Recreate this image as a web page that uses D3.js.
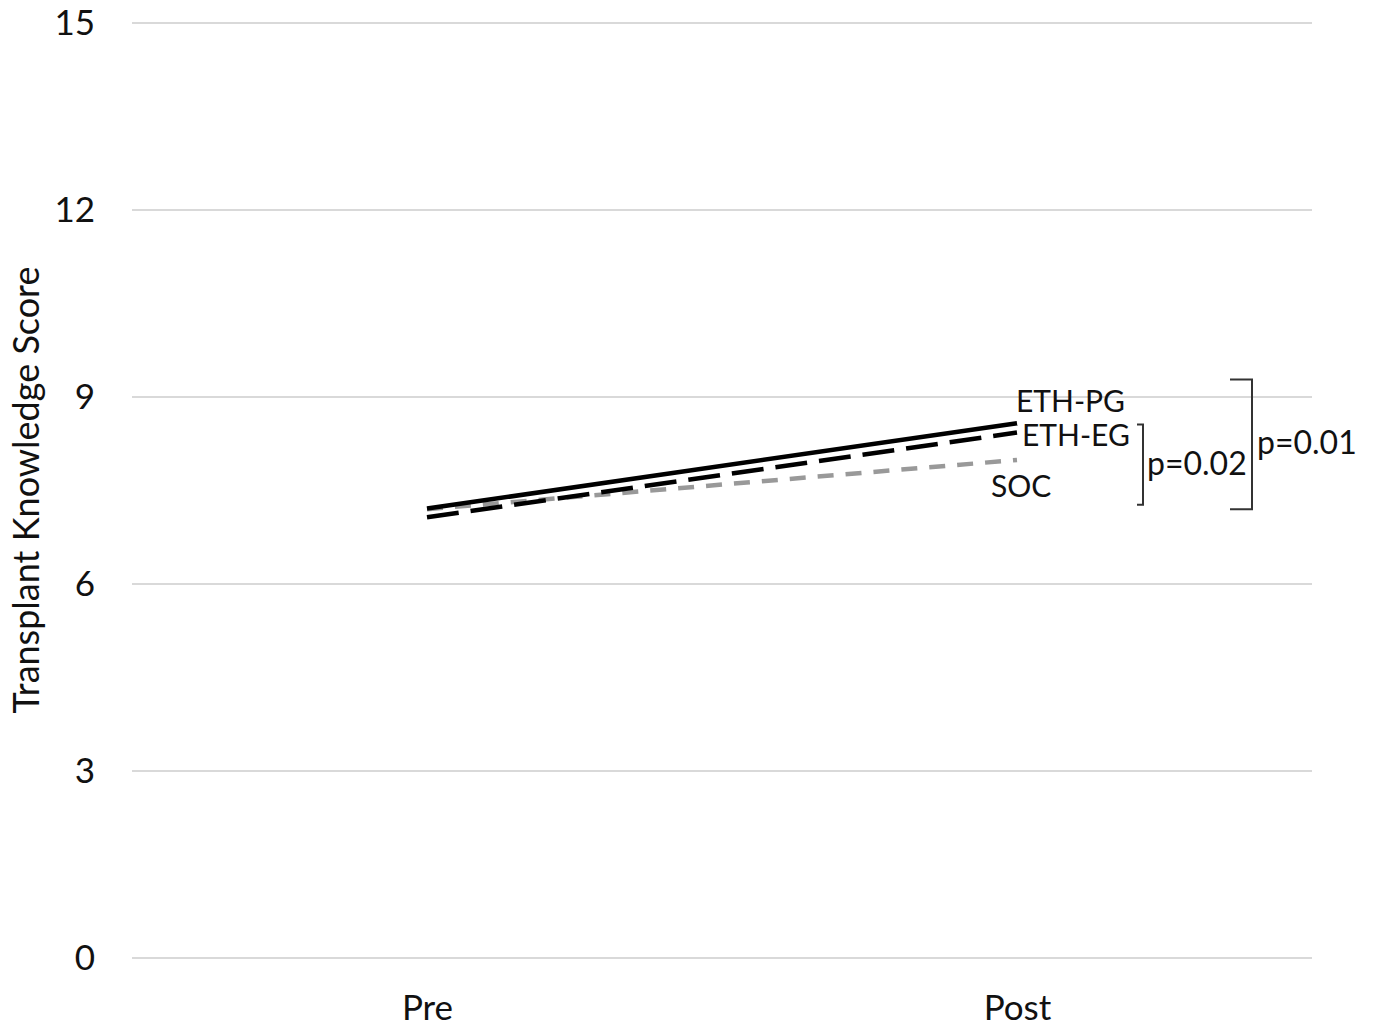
<!DOCTYPE html>
<html>
<head>
<meta charset="utf-8">
<script src="https://cdn.jsdelivr.net/npm/d3@7"></script>
<style>
  body { margin: 0; background: #fff; }
  svg { font-family: Lato, "Open Sans", sans-serif; }
</style>
</head>
<body>
<div id="theChart"></div>
<script>
const times = ["Pre", "Post"]
const groups = ["ETH-PG", "ETH-EG", "SOC"]
const ethPg = [7.21, 8.58]
const ethEg = [7.07, 8.43]
const soc = [7.2, 7.99]
const yTicks = [0, 3, 6, 9, 12, 15]
const pLabels = ["p=0.02", "p=0.01"]

const w = 1375
const h = 1032

const svg = d3.select("#theChart")
	.append("svg")
	.attr("width", w)
	.attr("height", h)

const x = d3.scalePoint().domain(times).range([132, 1312]).padding(0.5)
const y = d3.scaleLinear().domain([0, 15]).range([958, 23])

// gridlines
svg.append("g")
	.selectAll("line")
	.data(yTicks)
	.enter()
	.append("line")
	.attr("x1", 132)
	.attr("x2", 1312)
	.attr("y1", d => y(d))
	.attr("y2", d => y(d))
	.attr("stroke", "#d9d9d9")
	.attr("stroke-width", 2)

const yAxis = d3.axisLeft(y).tickValues(yTicks).tickSize(0).tickPadding(0)
svg.append("g")
	.attr("transform", "translate(95,0)")
	.call(yAxis)
	.call(g => g.select(".domain").remove())
	.selectAll("text")
	.attr("font-size", 35)
	.attr("font-family", "Lato, sans-serif")
	.attr("fill", "#111")

const xAxis = d3.axisBottom(x).tickSize(0).tickPadding(0)
svg.append("g")
	.attr("transform", "translate(0,995)")
	.call(xAxis)
	.call(g => g.select(".domain").remove())
	.selectAll("text")
	.attr("font-size", 35)
	.attr("font-family", "Lato, sans-serif")
	.attr("fill", "#111")

svg.append("text")
	.attr("transform", "translate(39,490) rotate(-90)")
	.attr("text-anchor", "middle")
	.attr("font-size", 36)
	.attr("fill", "#111")
	.text("Transplant Knowledge Score")

const line = d3.line().x((d, i) => x(times[i])).y(d => y(d))

const series = [
	{ name: groups[2], values: soc, color: "#999999", dash: "16,12" },
	{ name: groups[1], values: ethEg, color: "#000", dash: "32,12" },
	{ name: groups[0], values: ethPg, color: "#000", dash: null },
]

series.forEach(s => {
	svg.append("path")
		.datum(s.values)
		.attr("d", line)
		.attr("fill", "none")
		.attr("stroke", s.color)
		.attr("stroke-width", 4.5)
		.attr("stroke-dasharray", s.dash)
})

// series labels
const labelPos = {
	"ETH-PG": [x("Post") - 1, y(ethPg[1]) - 11, "start"],
	"ETH-EG": [x("Post") + 5, y(ethEg[1]) + 13, "start"],
	"SOC": [x("Post") - 26, y(soc[1]) + 37, "start"],
}
groups.forEach(g => {
	const p = labelPos[g]
	svg.append("text")
		.attr("x", p[0])
		.attr("y", p[1])
		.attr("text-anchor", p[2])
		.attr("font-size", 30)
		.attr("fill", "#111")
		.text(g)
})

// significance brackets
function bracket(x0, x1, v0, v1, label, lx) {
	const yt = y(v0), yb = y(v1)
	svg.append("path")
		.attr("d", `M${x0},${yt}H${x1}V${yb}H${x0}`)
		.attr("fill", "none")
		.attr("stroke", "#333")
		.attr("stroke-width", 2)
	svg.append("text")
		.attr("x", lx)
		.attr("y", (yt + yb) / 2 + 10)
		.attr("font-size", 32)
		.attr("fill", "#111")
		.text(label)
}
bracket(1137, 1143, ethEg[1] + 0.13, soc[1] - 0.72, pLabels[0], 1147)
bracket(1230, 1252, ethPg[1] + 0.7, soc[1] - 0.79, pLabels[1], 1257)
</script>
</body>
</html>
